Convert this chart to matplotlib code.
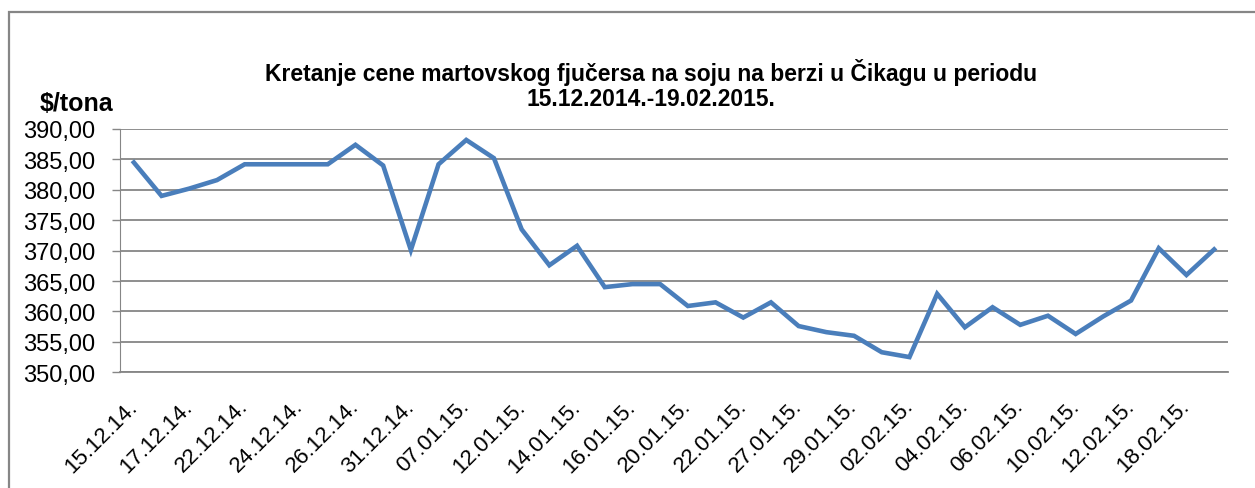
#!/usr/bin/env python
############################################################
import matplotlib as mpl
mpl.use('agg')
import matplotlib.pyplot as plt
from matplotlib.patches import Rectangle
from matplotlib.ticker import FuncFormatter, MultipleLocator

plt.rcParams['font.family'] = ['Liberation Sans', 'DejaVu Sans']

############################################################
# price of the March soybean future, $/t
############################################################
dates = [
    '15.12.14.', '16.12.14.', '17.12.14.', '19.12.14.', '22.12.14.',
    '23.12.14.', '24.12.14.', '25.12.14.', '26.12.14.', '30.12.14.',
    '31.12.14.', '05.01.15.', '07.01.15.', '09.01.15.', '12.01.15.',
    '13.01.15.', '14.01.15.', '15.01.15.', '16.01.15.', '19.01.15.',
    '20.01.15.', '21.01.15.', '22.01.15.', '26.01.15.', '27.01.15.',
    '28.01.15.', '29.01.15.', '30.01.15.', '02.02.15.', '03.02.15.',
    '04.02.15.', '05.02.15.', '06.02.15.', '09.02.15.', '10.02.15.',
    '11.02.15.', '12.02.15.', '17.02.15.', '18.02.15.', '19.02.15.',
]
price = [
    384.5, 379.0, 380.2, 381.6, 384.2, 384.2, 384.2, 384.2, 387.4, 384.0,
    370.1, 384.2, 388.2, 385.2, 373.5, 367.6, 370.8, 364.0, 364.5, 364.5,
    360.9, 361.5, 359.0, 361.5, 357.6, 356.6, 356.0, 353.3, 352.5, 362.9,
    357.4, 360.7, 357.8, 359.3, 356.3, 359.2, 361.8, 370.4, 366.0, 370.2,
]
title = ('Kretanje cene martovskog fjučersa na soju na berzi u Čikagu u periodu\n'
         '15.12.2014.-19.02.2015.')

############################################################
W, H = 1255, 489
fig = plt.figure(figsize=(W / 100, H / 100), dpi=100)
ax = fig.add_axes([120 / W, 1 - 373.3 / H, (1228 - 120) / W, (373.3 - 130) / H])

# chart border, runs off the right and bottom edge
fig.patches.append(Rectangle((9 / W, -0.1), 1.2, 1 - 13 / H + 0.1,
                             transform=fig.transFigure, fill=False,
                             edgecolor='#868686', linewidth=1.6))

############################################################
x = list(range(len(price)))
ax.plot(x, price, color='#4a7ebb', linewidth=3.3, solid_joinstyle='miter')

ax.set_xlim(-0.5, len(price) - 0.5)
ax.set_ylim(350, 390)
ax.yaxis.set_major_locator(MultipleLocator(5))
ax.yaxis.set_major_formatter(FuncFormatter(lambda v, p: f'{v:.2f}'.replace('.', ',')))
ax.grid(axis='y', color='#868686', linewidth=1.3)
ax.set_axisbelow(True)

ax.set_xticks(x[::2])
ax.set_xticklabels(dates[::2], rotation=45, ha='right', va='center',
                   rotation_mode='anchor', fontsize=16)
ax.tick_params(axis='x', length=0, pad=22)
ax.tick_params(axis='y', length=5.5, width=1, color='#868686', pad=12.5,
               labelsize=17)

for s in ['top', 'right']:
    ax.spines[s].set_visible(False)
ax.spines['left'].set_color('#868686')
ax.spines['left'].set_linewidth(0.8)
ax.spines['bottom'].set_color('#868686')
ax.spines['bottom'].set_linewidth(1.3)

########################################
fig.text(651 / W, 1 - 85 / H, title, ha='center', va='center',
         fontsize=16.5, fontweight='bold', linespacing=1.1)
fig.text(76 / W, 1 - 104 / H, '$/tona', ha='center', va='center',
         fontsize=18, fontweight='bold')

plt.savefig('out.png')
